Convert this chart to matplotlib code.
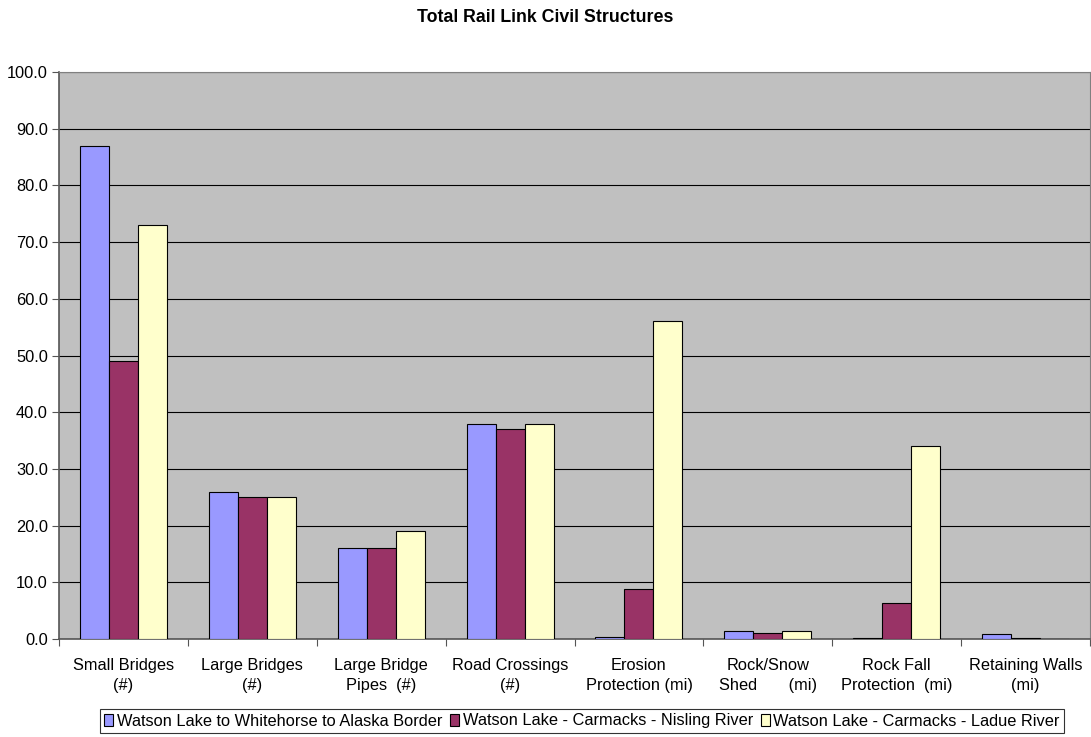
import matplotlib
matplotlib.use("Agg")
import matplotlib.pyplot as plt
import numpy as np

plt.rcParams['font.family'] = ['Liberation Sans', 'DejaVu Sans']

categories = ["Small Bridges\n(#)", "Large Bridges\n(#)", "Large Bridge\nPipes  (#)",
              "Road Crossings\n(#)", "Erosion\nProtection (mi)", "Rock/Snow\nShed       (mi)",
              "Rock Fall\nProtection  (mi)", "Retaining Walls\n(mi)"]
series_names = ["Watson Lake to Whitehorse to Alaska Border",
                "Watson Lake - Carmacks - Nisling River",
                "Watson Lake - Carmacks - Ladue River"]
whitehorse = [87, 26, 16, 38, 0.3, 1.4, 0.2, 0.8]
nisling = [49, 25, 16, 37, 8.8, 1.0, 6.4, 0.1]
ladue = [73, 25, 19, 38, 56, 1.4, 34, 0.0]
colors = ["#9999FF", "#993366", "#FFFFCC"]

fig = plt.figure(figsize=(10.91, 7.37), dpi=100)
ax = fig.add_axes([59/1091, 1 - 639/737, (1090-59)/1091, (639-72)/737])
ax.set_facecolor("#C0C0C0")

x = np.arange(len(categories))
w = 0.225
for i, (vals, c, name) in enumerate(zip([whitehorse, nisling, ladue], colors, series_names)):
    ax.bar(x + (i - 1) * w, vals, w, color=c, edgecolor="black", linewidth=0.8,
           label=name, zorder=3)

ax.set_xlim(-0.5, len(categories) - 0.5)
ax.set_ylim(0, 100)
ax.set_yticks(np.arange(0, 101, 10))
ax.set_yticklabels([f"{v:.1f}" for v in np.arange(0, 101, 10)], fontsize=11.8)
ax.yaxis.grid(True, color="black", linewidth=0.8, zorder=1)
ax.set_axisbelow(True)

ax.set_xticks(np.arange(-0.5, len(categories) - 0.4, 1))
ax.set_xticklabels([])
ax.set_xticks(x, minor=True)
ax.set_xticklabels(categories, minor=True, fontsize=11.8, linespacing=1.4)
ax.tick_params(axis="x", which="minor", length=0, pad=14)
ax.tick_params(axis="x", which="major", length=5, direction="out", color="#555555")
ax.tick_params(axis="y", length=5, direction="out", color="#555555", pad=3)

for s in ["top", "right"]:
    ax.spines[s].set_color("#808080")
for s in ["left", "bottom"]:
    ax.spines[s].set_color("#555555")
    ax.spines[s].set_linewidth(1.2)

fig.suptitle("Total Rail Link Civil Structures", y=1 - 17/737, fontsize=12.8,
             fontweight="bold", va="center")

leg = fig.legend(loc="center", bbox_to_anchor=(582/1091, 1 - 721/737), ncol=3,
                 fontsize=11.8, frameon=True, fancybox=False, edgecolor="black",
                 handlelength=0.55, handleheight=0.75, handletextpad=0.2,
                 columnspacing=0.5, borderpad=0.25, borderaxespad=0)
leg.get_frame().set_linewidth(0.8)

fig.savefig("out.png", dpi=100, facecolor="white")
